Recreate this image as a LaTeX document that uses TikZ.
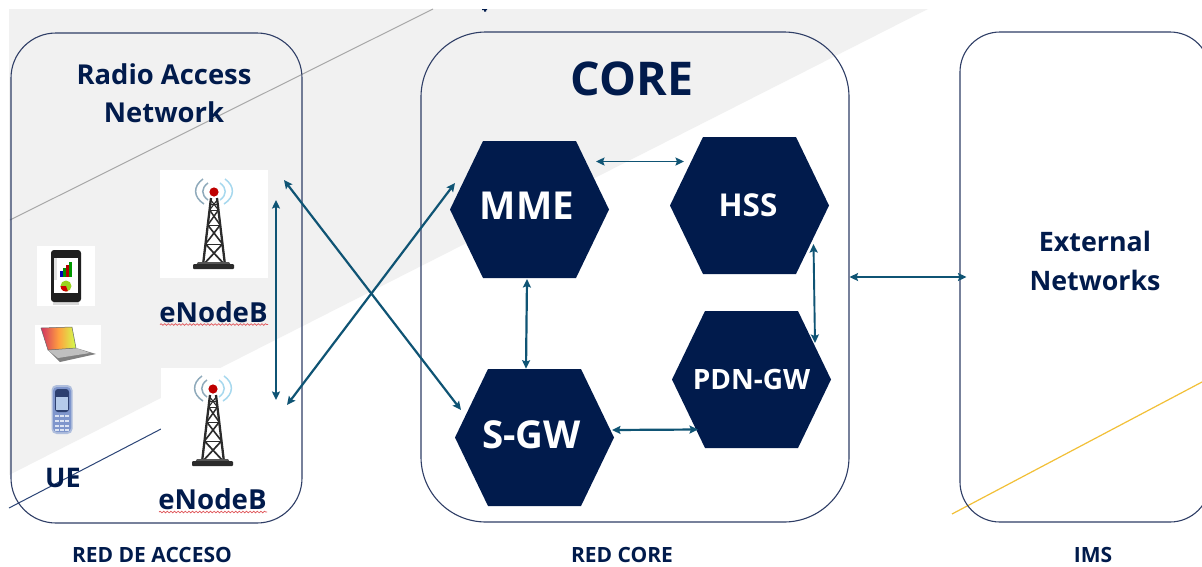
\documentclass[tikz,border=0pt]{standalone}
\usepackage{fontspec}
\setmainfont{Open Sans}
\usetikzlibrary{arrows.meta,decorations.pathmorphing}
\definecolor{navy}{HTML}{011B4C}
\definecolor{boxline}{HTML}{2F3E66}
\definecolor{arrowc}{HTML}{0F5474}
\definecolor{band}{HTML}{F1F1F1}
\definecolor{greyline}{HTML}{A8A8A8}
\definecolor{darkline}{HTML}{2C4577}
\definecolor{yellowline}{HTML}{F2C037}
\definecolor{squiggle}{HTML}{E0565A}
\definecolor{towerc}{HTML}{2B2B2B}
\definecolor{arcgrey}{HTML}{8FAABB}
\definecolor{arcblue}{HTML}{A6D8EE}
\definecolor{nokiabody}{HTML}{7F96CC}
\definecolor{nokiaedge}{HTML}{AFBEDD}
\definecolor{nokiadark}{HTML}{2D4070}
\definecolor{nokiascreen}{HTML}{B5CBEA}
\definecolor{nokiakey}{HTML}{DCE4F3}
\tikzset{
  netbox/.style={draw=boxline,line width=1.1pt,inner sep=0pt,minimum width=#1},
  hexa/.style={minimum width=159pt,minimum height=137pt,inner sep=0pt,text=white,
    path picture={\fill[navy]
      (path picture bounding box.west)
      -- ([xshift=33pt]path picture bounding box.north west)
      -- ([xshift=-33pt]path picture bounding box.north east)
      -- (path picture bounding box.east)
      -- ([xshift=-33pt]path picture bounding box.south east)
      -- ([xshift=33pt]path picture bounding box.south west) -- cycle;}},
  imgbox/.style={fill=white,inner sep=0pt},
  arr/.style={arrowc,line width=2.2pt,{Stealth[length=8.5pt,width=8pt,inset=1.5pt]}-{Stealth[length=8.5pt,width=8pt,inset=1.5pt]}},
  lbl/.style={text=navy,font=\bfseries,inner sep=0pt,align=center},
  wavy/.style={squiggle,line width=0.7pt,decorate,decoration={snake,amplitude=0.8pt,segment length=3.6pt}},
  tower/.pic={
    \foreach \s in {-1,1}{
      \draw[towerc,line width=2.3pt] (\s*3,6) -- (\s*11,73);
      \draw[towerc,line width=1.5pt] (\s*4.4,18) -- (-\s*6.2,33);
      \draw[towerc,line width=1.6pt] (\s*6.2,33) -- (-\s*8.5,52);
      \draw[towerc,line width=1.7pt] (\s*8.5,52) -- (-\s*11,73);
      \draw[towerc,line width=1.1pt] (\s*3.2,8) -- (-\s*4.4,18);
    }
    \draw[towerc,line width=0.9pt] (-3.6,12) -- (3.6,12) (-4.4,18)--(4.4,18) (-6.2,33) -- (6.2,33) (-8.5,52) -- (8.5,52);
    \fill[towerc!80!white] (-16,70) -- (15,70) -- (17,73) -- (-18,73) -- cycle;
    \fill[towerc,rounded corners=1pt] (-21,72) rectangle (20,77);
    \draw[line width=1.5pt,color=arcgrey] (-11,-13) .. controls (-21,-6) and (-21,5) .. (-10,12);
    \draw[line width=1.5pt,color=arcgrey] (-6,-9) .. controls (-13,-4) and (-13,3) .. (-6,8);
    \draw[line width=1.5pt,color=arcblue] (11,-13) .. controls (21,-6) and (21,5) .. (10,12);
    \draw[line width=1.5pt,color=arcblue] (6,-9) .. controls (13,-4) and (13,3) .. (6,8);
    \fill[red!75!black] (0,0) circle (4.6);
  }
}
\begin{document}
\begin{tikzpicture}[x=1pt,y=-1pt]
\useasboundingbox (0,0) rectangle (1202,566);
\fill[white] (0,0) rectangle (1202,566);
\begin{scope}
\clip (0,0) rectangle (1202,566);
% background band and stray lines
\fill[band] (9,9) -- (928,9) -- (9,475) -- cycle;
\draw[greyline,line width=1pt] (10,220) -- (433,9);
\draw[darkline,line width=1pt] (9,508) -- (161,429);
\draw[yellowline,line width=1.2pt] (952,514) -- (1202,382);
\fill[navy] (482,9) rectangle (487,10) (484,10) rectangle (486,11.5);
% image boxes
\node[imgbox,minimum width=108pt,minimum height=108pt] (tower1) at (214,224) {};
\node[imgbox,minimum width=107pt,minimum height=107pt] (tower2) at (214.5,421.5) {};
\node[imgbox,minimum width=58pt,minimum height=60pt] (phone) at (66,276) {};
\node[imgbox,minimum width=66pt,minimum height=39pt] (laptop) at (68,344.5) {};
\pic at (214,192) {tower};
\pic at (213,389) {tower};
% phone
\fill[black!15] (53,302) rectangle (79,305);
\fill[black!88,rounded corners=3pt] (51,250) rectangle (81,302);
\fill[white] (54,258) rectangle (78,293);
\fill[black!12] (54,258) rectangle (56.5,280);
\fill[blue!70!black] (60,271) rectangle (62.5,277);
\fill[green!55!black] (63,268) rectangle (65.5,277);
\fill[red!70!black] (66,265) rectangle (68.5,277);
\fill[green!60!black] (69,262) rectangle (72,277);
\fill[yellow!60!green] (66,286) circle (5.5);
\fill[red!80!black] (66,286) -- (60.5,286) arc (180:70:5.5) -- cycle;
% laptop
\fill[black!50] (48,350) -- (76,348) -- (96,354) -- (60,362) -- cycle;
\fill[black!25] (48,350) -- (76,348) -- (90,353) -- (58,358) -- cycle;
\shade[left color=red!55!violet!80!white,right color=yellow!75!green!70!white,middle color=orange!75!white]
  (41,328) -- (72,327) -- (76,348) -- (48,350) -- cycle;
\draw[black!60,line width=0.5pt] (41,328) -- (72,327) -- (76,348) -- (48,350) -- cycle;
% old mobile
\fill[nokiaedge,rounded corners=5pt] (51.5,385) rectangle (72.5,434);
\fill[nokiabody,rounded corners=4pt] (53,387) rectangle (71,432);
\fill[nokiadark,rounded corners=3pt] (55,389) rectangle (69,412);
\fill[nokiascreen] (56,397) rectangle (68,410);
\foreach \ky in {416,421,426,430}{\foreach \kx in {57,62,67}{\fill[nokiakey] (\kx-1.6,\ky-1.2) rectangle (\kx+1.6,\ky+1.2);}}
% network boxes
\node[netbox=291pt,rounded corners=45pt,minimum height=490pt] (ran) at (156.5,278) {};
\node[netbox=428pt,rounded corners=65pt,minimum height=490pt] (core) at (635,277) {};
\node[netbox=250pt,rounded corners=40pt,minimum height=490pt] (ext) at (1085,277) {};
% hexagons
\node[hexa,font=\bfseries\fontsize{38.5}{38.5}\selectfont] (mme) at (529.5,209.5) {\raisebox{7.5pt}{MME}\hspace*{5pt}};
\node[hexa,font=\bfseries\fontsize{31.5}{31.5}\selectfont] (hss) at (749.5,205.5) {\raisebox{-1.5pt}{HSS}\hspace*{3pt}};
\node[hexa,font=\bfseries\fontsize{28}{28}\selectfont] (pdn) at (751.5,379.5) {\raisebox{-2.5pt}{PDN-GW}};
\node[hexa,font=\bfseries\fontsize{38.5}{38.5}\selectfont] (sgw) at (534.5,437.5) {\raisebox{6.5pt}{S-GW}\hspace*{6pt}};
% connectors
\draw[arr] ([xshift=70pt,yshift=44pt]tower1.center) -- ([xshift=-73.5pt,yshift=27.5pt]sgw.center);
\draw[arr] ([xshift=72.5pt,yshift=16.5pt]tower2.center) -- ([xshift=-74.5pt,yshift=26.5pt]mme.center);
\draw[arr] ([xshift=62pt,yshift=24pt]tower1.center) -- ([xshift=61.5pt,yshift=21.5pt]tower2.center);
\draw[arr,line width=1.9pt] ([xshift=66.5pt,yshift=48pt]mme.center) -- ([xshift=-65.5pt,yshift=44pt]hss.center);
\draw[arr] ([xshift=-2.5pt,yshift=-69.5pt]mme.center) -- ([xshift=-8.5pt,yshift=68.8pt]sgw.center);
\draw[arr,line width=1.9pt] ([xshift=64pt,yshift=-38.5pt]hss.center) -- ([xshift=63.5pt,yshift=36.5pt]pdn.center);
\draw[arr] ([xshift=77.5pt,yshift=7.5pt]sgw.center) -- ([xshift=-53.5pt,yshift=-50pt]pdn.center);
\draw[arr] (core.east) -- ([xshift=7pt]ext.west);
% labels
\node[lbl,font=\bfseries\fontsize{27.4}{38.5}\selectfont] (rantitle) at (164,93) {Radio Access\\Network};
\node[lbl,font=\bfseries\fontsize{46.5}{46.5}\selectfont] (coretitle) at (632,78.5) {CORE};
\node[lbl,font=\bfseries\fontsize{26.8}{39}\selectfont] (exttitle) at (1095,261) {External\\Networks};
\node[lbl,font=\bfseries\fontsize{27.6}{27.6}\selectfont] (enb1) at (213.5,312.5) {eNodeB};
\node[lbl,font=\bfseries\fontsize{27.6}{27.6}\selectfont] (enb2) at (212.5,499.5) {eNodeB};
\node[lbl,font=\bfseries\fontsize{27}{27}\selectfont] (ue) at (63,478) {UE};
\node[lbl,font=\bfseries\fontsize{21}{21}\selectfont] (redacceso) at (152,555) {RED DE ACCESO};
\node[lbl,font=\bfseries\fontsize{21}{21}\selectfont] (redcore) at (622,555) {RED CORE};
\node[lbl,font=\bfseries\fontsize{21}{21}\selectfont] (ims) at (1093,555) {IMS};
\draw[wavy] (160,324.5) -- (268,324.5);
\draw[wavy] (159,512) -- (267,512);
\end{scope}
\end{tikzpicture}
\end{document}
